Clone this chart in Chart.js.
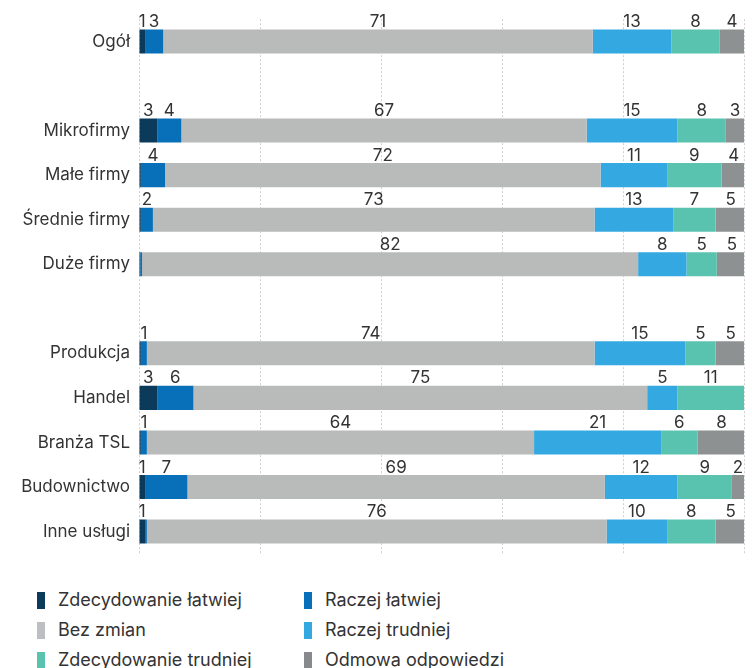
<!DOCTYPE html>
<html>
<head>
<meta charset="utf-8">
<script src="https://cdn.jsdelivr.net/npm/chart.js@4/dist/chart.umd.min.js"></script>
<style>
  body { margin: 0; background: #fff; font-family: Inter, "Noto Sans", sans-serif; }
  #wrap { position: relative; width: 752px; height: 668px; }
  #chartBox { position: absolute; left: 0; top: 0; width: 752px; height: 573px; }
  #legend { position: absolute; left: 37px; top: 590px; width: 700px; }
  .item { position: absolute; font-size: 18px; color: #333; line-height: 20px; white-space: nowrap; }
  .item span { display: inline-block; width: 8px; height: 17px; vertical-align: -3px; margin-right: 13px; }
</style>
</head>
<body>
<div id="wrap">
  <div id="chartBox"><canvas id="chart"></canvas></div>
  <div id="legend"></div>
</div>
<script>
// --- Stacked bar: łatwiej / trudniej ---

const categories = ['Ogół', '', 'Mikrofirmy', 'Małe firmy', 'Średnie firmy', 'Duże firmy', '',
    'Produkcja', 'Handel', 'Branża TSL', 'Budownictwo', 'Inne usługi'];

const seriesNames = ['Zdecydowanie łatwiej', 'Raczej łatwiej', 'Bez zmian',
    'Raczej trudniej', 'Zdecydowanie trudniej', 'Odmowa odpowiedzi'];

const seriesColors = ['#0b3a5b', '#0870b8', '#b9baba', '#34a9e1', '#5ac3b0', '#8e9192'];
const legendColors = ['#0b3a5b', '#0870b8', '#bdbec2', '#34a9e1', '#5ac3b0', '#88898d'];

const zdecLatwiej  = [1, null, 3, 0.3, 0.3, 0.2, null, 0.3, 3, 0.3, 1, 1];
const raczejLatwiej = [3, null, 4, 4, 2, 0.3, null, 1, 6, 1, 7, 0.3];
const bezZmian     = [71, null, 67, 72, 73, 82, null, 74, 75, 64, 69, 76];
const raczejTrudn  = [13, null, 15, 11, 13, 8, null, 15, 5, 21, 12, 10];
const zdecTrudn    = [8, null, 8, 9, 7, 5, null, 5, 11, 6, 9, 8];
const odmowa       = [4, null, 3, 4, 5, 5, null, 5, 0, 8, 2, 5];

const allSeries = [zdecLatwiej, raczejLatwiej, bezZmian, raczejTrudn, zdecTrudn, odmowa];

// value labels above each segment
const segmentLabels = {
    id: 'segmentLabels',
    afterDatasetsDraw(chart) {
        const ctx = chart.ctx;
        ctx.save();
        ctx.font = '400 17px Inter, "Noto Sans", sans-serif';
        ctx.fillStyle = '#333';
        ctx.textAlign = 'center';
        ctx.textBaseline = 'bottom';
        chart.data.datasets.forEach((ds, i) => {
            const meta = chart.getDatasetMeta(i);
            meta.data.forEach((bar, j) => {
                const v = ds.data[j];
                if (v == null || v < 0.5) return;
                const cx = (bar.x + bar.base) / 2;
                ctx.fillText(String(Math.round(v)), cx, bar.y - bar.height / 2 + 1);
            });
        });
        ctx.restore();
    }
};

const chart = new Chart(document.getElementById('chart'), {
    type: 'bar',
    data: {
        labels: categories,
        datasets: allSeries.map((d, i) => ({
            label: seriesNames[i],
            data: d,
            backgroundColor: seriesColors[i],
            borderWidth: 0,
            barPercentage: 0.54,
            categoryPercentage: 1
        }))
    },
    options: {
        indexAxis: 'y',
        responsive: true,
        maintainAspectRatio: false,
        animation: false,
        layout: { padding: { top: 9, right: 8, bottom: 0, left: 0 } },
        plugins: {
            legend: { display: false },
            tooltip: { enabled: false }
        },
        scales: {
            x: {
                stacked: true,
                min: 0,
                max: 100,
                ticks: { display: false, stepSize: 20 },
                border: { display: false, dash: [2, 2] },
                grid: {
                    color: '#cfcfcf',
                    lineWidth: 1,
                    drawTicks: false
                },
                afterFit(scale) { scale.height = 0; }
            },
            y: {
                stacked: true,
                grid: { display: false, drawTicks: false },
                border: { display: false },
                ticks: {
                    color: '#333',
                    padding: 9,
                    font: { family: 'Inter, "Noto Sans", sans-serif', size: 17, weight: '400' }
                },
                afterFit(scale) { scale.width = 139; }
            }
        }
    },
    plugins: [segmentLabels]
});

// HTML legend, two columns
const legendBox = document.getElementById('legend');
seriesNames.forEach((name, i) => {
    const el = document.createElement('div');
    el.className = 'item';
    el.style.left = (i % 2 === 0 ? 0 : 267) + 'px';
    el.style.top = (Math.floor(i / 2) * 30) + 'px';
    el.innerHTML = '<span style="background:' + legendColors[i] + '"></span>' + name;
    legendBox.appendChild(el);
});
</script>
</body>
</html>
